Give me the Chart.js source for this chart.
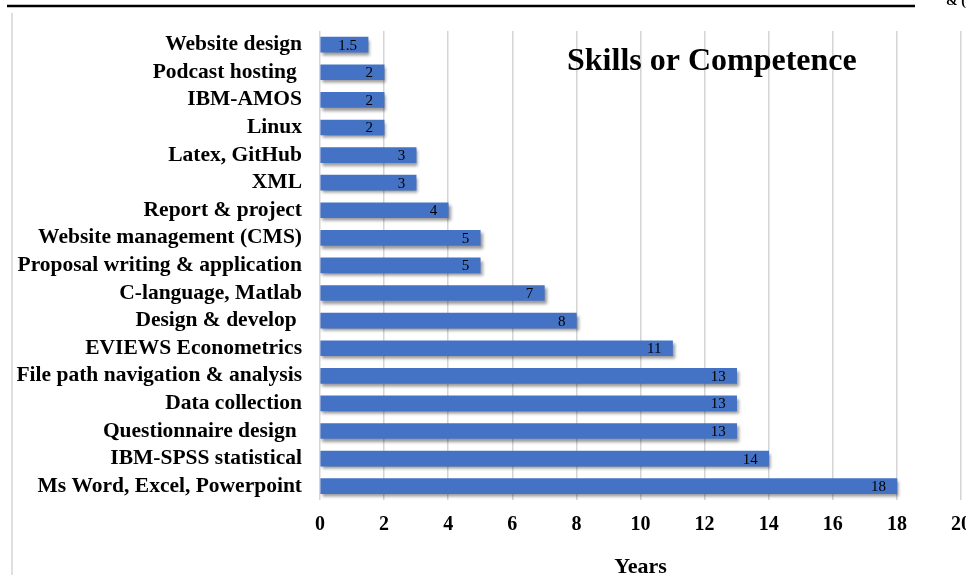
<!DOCTYPE html>
<html>
<head>
<meta charset="utf-8">
<script src="https://cdn.jsdelivr.net/npm/chart.js@4.4.1/dist/chart.umd.min.js"></script>
<style>
  html, body { margin: 0; padding: 0; background: #fff; overflow: hidden; }
  #wrap { width: 980px; height: 581px; position: relative; }
</style>
</head>
<body>
<div id="wrap"><canvas id="skillsChart"></canvas></div>
<script>
const skills = [
  "Website design", "Podcast hosting ", "IBM-AMOS", "Linux", "Latex, GitHub", "XML",
  "Report & project", "Website management (CMS)", "Proposal writing & application",
  "C-language, Matlab", "Design & develop ", "EVIEWS Econometrics",
  "File path navigation & analysis", "Data collection", "Questionnaire design ",
  "IBM-SPSS statistical", "Ms Word, Excel, Powerpoint"
];
const years = [1.5, 2, 2, 2, 3, 3, 4, 5, 5, 7, 8, 11, 13, 13, 13, 14, 18];
const xTicks = [0, 2, 4, 6, 8, 10, 12, 14, 16, 18, 20];

const serif = "'Liberation Serif', 'DejaVu Serif', serif";

// shadow under the bars, like the office chart
const barShadow = {
  id: "barShadow",
  beforeDatasetsDraw(chart) {
    const ctx = chart.ctx;
    ctx.save();
    ctx.shadowColor = "rgba(0,0,0,0.4)";
    ctx.shadowBlur = 3;
    ctx.shadowOffsetX = 2;
    ctx.shadowOffsetY = 3;
  },
  afterDatasetsDraw(chart) {
    chart.ctx.restore();
  }
};

// value labels, frame lines and the inner title
const extras = {
  id: "extras",
  afterDatasetsDraw(chart) {
    const ctx = chart.ctx;
    const meta = chart.getDatasetMeta(0);
    ctx.save();
    ctx.fillStyle = "#000";
    ctx.font = "15px " + serif;
    ctx.textAlign = "right";
    ctx.textBaseline = "middle";
    meta.data.forEach((bar, i) => {
      ctx.fillText(String(years[i]), bar.x - 11, bar.y + 1);
    });
    ctx.restore();
  },
  afterDraw(chart) {
    const ctx = chart.ctx;
    ctx.save();
    ctx.strokeStyle = "#000";
    ctx.lineWidth = 2.5;
    ctx.beginPath();
    ctx.moveTo(7, 6);
    ctx.lineTo(915, 6);
    ctx.stroke();
    ctx.strokeStyle = "#d4d4d4";
    ctx.lineWidth = 1.5;
    ctx.beginPath();
    ctx.moveTo(12, 13);
    ctx.lineTo(12, 581);
    ctx.stroke();
    ctx.fillStyle = "#000";
    ctx.font = "bold 32px " + serif;
    ctx.textAlign = "left";
    ctx.textBaseline = "middle";
    ctx.fillText("Skills or Competence", 567, 62);
    ctx.font = "bold 14px " + serif;
    ctx.fillText("& (", 946, 1);
    ctx.restore();
  }
};

new Chart(document.getElementById("skillsChart"), {
  type: "bar",
  data: {
    labels: skills,
    datasets: [{
      label: "Years",
      data: years,
      backgroundColor: "#4472C4",
      borderWidth: 0,
      barThickness: 15
    }]
  },
  options: {
    indexAxis: "y",
    responsive: true,
    maintainAspectRatio: false,
    animation: false,
    layout: { padding: { top: 14, right: 19, bottom: 0, left: 0 } },
    plugins: { legend: { display: false }, tooltip: { enabled: false } },
    scales: {
      x: {
        min: 0,
        max: 20,
        afterBuildTicks: axis => { axis.ticks = xTicks.map(v => ({ value: v })); },
        afterFit: axis => {
          axis.height = 81;
          axis.paddingLeft = 0;
          axis.paddingRight = 0;
        },
        grid: { color: "#d4d4d4", lineWidth: 1.5, drawTicks: false },
        border: { display: false },
        ticks: {
          padding: 13,
          color: "#000",
          font: { family: serif, size: 20, weight: "bold" }
        },
        title: {
          display: true,
          text: "Years",
          color: "#000",
          padding: { top: 0, bottom: 0 },
          font: { family: serif, size: 22, weight: "bold" }
        }
      },
      y: {
        afterFit: axis => { axis.width = 320; },
        grid: { display: false, drawTicks: false },
        border: { display: false },
        ticks: {
          padding: 18,
          color: "#000",
          autoSkip: false,
          font: { family: serif, size: 21.5, weight: "bold" }
        }
      }
    }
  },
  plugins: [barShadow, extras]
});
</script>
</body>
</html>
